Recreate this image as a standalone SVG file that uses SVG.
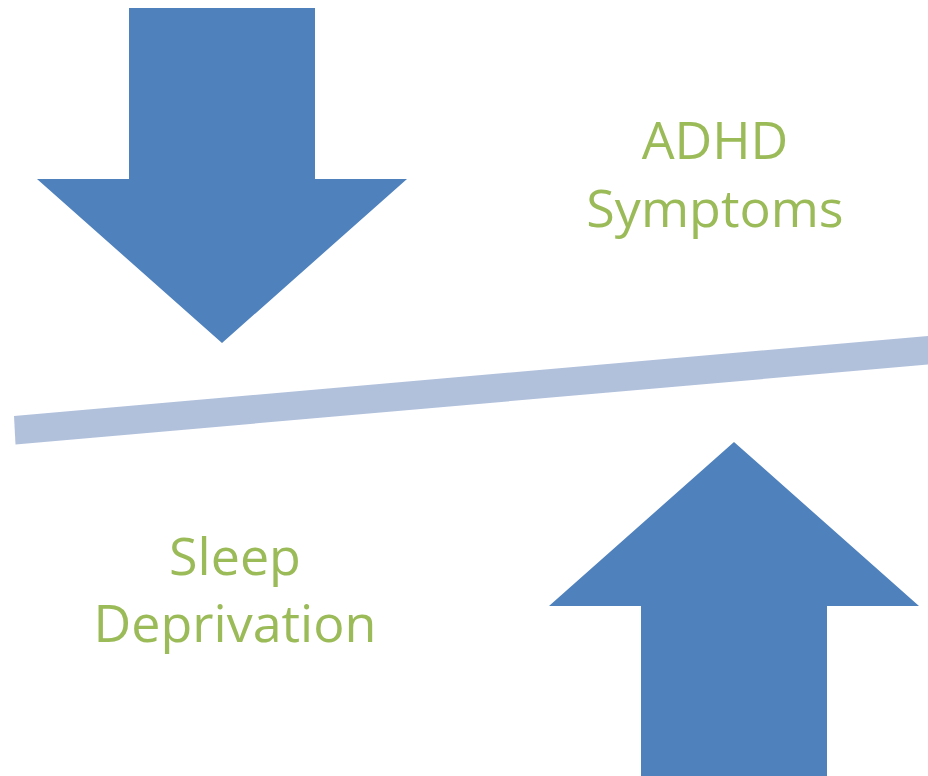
<svg xmlns="http://www.w3.org/2000/svg" width="928" height="776" viewBox="0 0 928 776">
<style>
.arrow{fill:#4F81BD}
.bar{fill:#B1C1DC}
.lbl{font-family:"Open Sans","Noto Sans","Liberation Sans",sans-serif;font-size:52px;fill:#9BBB59;text-anchor:middle}
</style>
<rect width="928" height="776" fill="#FFFFFF"/>
<g id="connectors">
<polygon class="bar" points="14,416 15.5,444.5 928,364.5 928,336"/>
</g>
<g id="down-arrow">
<polygon class="arrow" points="129,8 315,8 315,179 407,179 222,343 37,179 129,179"/>
</g>
<g id="up-arrow">
<polygon class="arrow" points="734,442 919,606 827,606 827,776 641,776 641,606 549,606"/>
</g>
<g id="adhd-label">
<text class="lbl" x="715" y="159">ADHD</text>
<text class="lbl" x="715" y="227">Symptoms</text>
</g>
<g id="sleep-label">
<text class="lbl" x="235" y="575">Sleep</text>
<text class="lbl" x="235" y="642">Deprivation</text>
</g>
</svg>
